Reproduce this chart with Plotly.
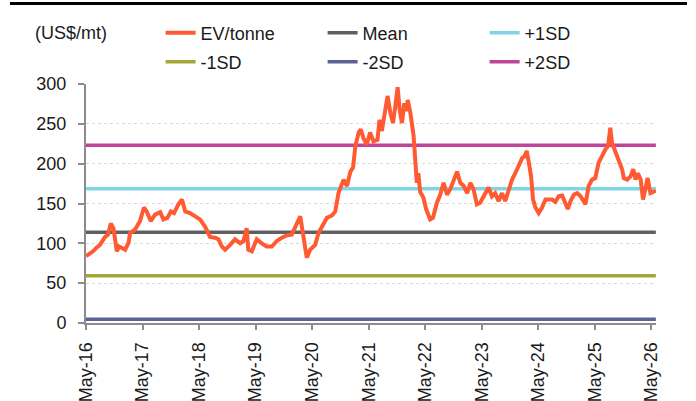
import plotly.graph_objects as go

# EV/tonne series (US$/mt)
dates = [
    "2016-05-01", "2016-05-20", "2016-06-15", "2016-07-11", "2016-07-30", "2016-09-01", "2016-09-21",
    "2016-10-08", "2016-10-25", "2016-11-05", "2016-11-16", "2016-12-01", "2016-12-18", "2017-01-09",
    "2017-01-31", "2017-02-10", "2017-03-13", "2017-04-15", "2017-05-10", "2017-05-28", "2017-06-23",
    "2017-07-21", "2017-08-23", "2017-09-13", "2017-10-09", "2017-10-31", "2017-11-21", "2017-12-19",
    "2018-01-11", "2018-02-01", "2018-03-04", "2018-04-05", "2018-05-07", "2018-06-09", "2018-07-11",
    "2018-08-13", "2018-09-04", "2018-09-26", "2018-10-17", "2018-11-18", "2018-12-20", "2019-01-22",
    "2019-02-12", "2019-03-05", "2019-03-15", "2019-04-07", "2019-05-09", "2019-06-10", "2019-07-12",
    "2019-08-14", "2019-09-16", "2019-10-18", "2019-11-19", "2019-12-21", "2020-01-19", "2020-02-14",
    "2020-03-02", "2020-03-16", "2020-03-27", "2020-04-18", "2020-05-20", "2020-06-11", "2020-07-03",
    "2020-08-04", "2020-09-06", "2020-09-27", "2020-10-18", "2020-11-20", "2020-12-12", "2021-01-03",
    "2021-01-20", "2021-02-04", "2021-02-25", "2021-03-11", "2021-03-28", "2021-04-19", "2021-05-10",
    "2021-06-01", "2021-06-27", "2021-07-10", "2021-07-25", "2021-08-16", "2021-08-31", "2021-09-18",
    "2021-10-05", "2021-10-20", "2021-11-04", "2021-11-17", "2021-12-02", "2021-12-17", "2021-12-30",
    "2022-01-08", "2022-01-25", "2022-02-15", "2022-02-27", "2022-03-08", "2022-03-18", "2022-03-29",
    "2022-04-20", "2022-05-07", "2022-06-02", "2022-06-20", "2022-07-16", "2022-08-06", "2022-08-28",
    "2022-09-19", "2022-10-10", "2022-11-01", "2022-11-23", "2022-12-14", "2023-01-05", "2023-01-27",
    "2023-02-17", "2023-03-09", "2023-03-31", "2023-04-21", "2023-05-24", "2023-06-14", "2023-07-06",
    "2023-07-27", "2023-08-18", "2023-09-09", "2023-09-30", "2023-10-21", "2023-11-13", "2023-12-04",
    "2023-12-26", "2024-01-17", "2024-02-01", "2024-02-16", "2024-03-01", "2024-03-15", "2024-03-28",
    "2024-04-12", "2024-05-03", "2024-05-25", "2024-06-16", "2024-07-07", "2024-07-29", "2024-08-19",
    "2024-09-10", "2024-10-02", "2024-10-23", "2024-11-07", "2024-11-25", "2024-12-16", "2025-01-07",
    "2025-01-29", "2025-03-01", "2025-03-22", "2025-04-13", "2025-05-04", "2025-05-25", "2025-06-16",
    "2025-07-08", "2025-07-25", "2025-08-09", "2025-08-20", "2025-09-11", "2025-10-02", "2025-10-24",
    "2025-11-04", "2025-11-26", "2025-12-17", "2026-01-04", "2026-01-19", "2026-02-03", "2026-02-21",
    "2026-03-08", "2026-03-23", "2026-04-07", "2026-04-25", "2026-05-16", "2026-05-30",
]
ev_tonne = [
    84, 86, 90, 95, 98, 108, 111,
    125, 119, 105, 90, 96, 94, 92,
    101, 113, 117, 128, 145, 140, 128,
    136, 139, 130, 132, 140, 138, 149,
    155, 140, 138, 134, 130, 121, 108,
    107, 105, 96, 92, 98, 105, 100,
    103, 119, 92, 90, 105, 100, 96,
    96, 103, 107, 110, 111, 124, 134,
    113, 92, 82, 92, 98, 113, 120,
    132, 135, 140, 163, 180, 172, 190,
    195, 222, 239, 243, 232, 224, 239,
    228, 230, 255, 241, 272, 285, 264,
    251, 272, 296, 268, 251, 276, 266,
    280, 264, 235, 197, 176, 188, 165,
    157, 143, 130, 132, 151, 161, 176,
    161, 168, 178, 190, 176, 172, 163,
    176, 168, 149, 151, 163, 170, 159,
    163, 153, 163, 153, 168, 180, 188,
    199, 207, 209, 216, 201, 184, 155,
    145, 138, 145, 155, 155, 155, 152,
    159, 160, 150, 143, 153, 161, 163,
    159, 149, 172, 180, 182, 201, 211,
    218, 222, 245, 226, 214, 203, 193,
    182, 180, 184, 193, 180, 188, 180,
    155, 168, 182, 163, 165, 166,
]

# Reference levels (US$/mt)
band_names = ["Mean", "+1SD", "-1SD", "-2SD", "+2SD"]
band_values = [113.8, 168.4, 59.2, 4.6, 223.0]
band_colors = ["#606060", "#80D4E8", "#A6A638", "#5A6396", "#C04498"]
band_legend_row = ["legend", "legend", "legend2", "legend2", "legend2"]

tick_dates = ["2016-05-01", "2017-05-01", "2018-05-01", "2019-05-01", "2020-05-01", "2021-05-01",
              "2022-05-01", "2023-05-01", "2024-05-01", "2025-05-01", "2026-05-01"]
tick_labels = ["May-16", "May-17", "May-18", "May-19", "May-20", "May-21",
               "May-22", "May-23", "May-24", "May-25", "May-26"]

FONT = "Liberation Sans, Arial, sans-serif"
FS = 18

fig = go.Figure()
for i in range(len(band_names)):
    fig.add_trace(go.Scatter(x=[dates[0], dates[-1]], y=[band_values[i]] * 2, mode="lines",
                             name=band_names[i], legendrank=i + 2, legend=band_legend_row[i],
                             line=dict(color=band_colors[i], width=3.5)))
fig.add_trace(go.Scatter(x=dates, y=ev_tonne, mode="lines", name="EV/tonne", legendrank=1,
                         legend="legend", line=dict(color="#FF5A32", width=4)))

legend_common = dict(orientation="h", x=0.1309, xanchor="left", yanchor="top",
                     entrywidth=117, entrywidthmode="pixels", traceorder="normal",
                     font=dict(family=FONT, size=FS, color="#1a1a1a"),
                     itemwidth=30, tracegroupgap=0, bgcolor="rgba(0,0,0,0)")

fig.update_layout(
    width=696, height=401,
    margin=dict(l=86, r=40, t=84, b=78, autoexpand=False),
    paper_bgcolor="white", plot_bgcolor="white",
    font=dict(family=FONT, size=FS, color="#1a1a1a"),
    showlegend=True,
    legend=dict(y=1.291, **legend_common),
    legend2=dict(y=1.1695, **legend_common),
    xaxis=dict(type="date", range=["2016-05-01", "2026-05-31"],
               tickmode="array", tickvals=tick_dates, ticktext=tick_labels,
               tickangle=-90, ticks="outside", ticklen=5, tickwidth=2, tickcolor="#8C8C8C",
               showline=True, linecolor="#8C8C8C", linewidth=2,
               showgrid=False, zeroline=False, ticklabelstandoff=5,
               tickfont=dict(family=FONT, size=FS, color="#1a1a1a")),
    yaxis=dict(range=[0, 300], dtick=50, tick0=0,
               ticks="outside", ticklen=6, tickwidth=2, tickcolor="#8C8C8C",
               showline=True, linecolor="#8C8C8C", linewidth=2,
               showgrid=True, gridcolor="#D9D9D9", griddash="dot", gridwidth=1,
               zeroline=False, ticklabelstandoff=8,
               tickfont=dict(family=FONT, size=FS, color="#1a1a1a")),
    annotations=[dict(text="(US$/mt)", xref="paper", yref="paper", x=-0.0935, y=1.213,
                      xanchor="left", yanchor="middle", showarrow=False,
                      font=dict(family=FONT, size=FS, color="#1a1a1a"))],
    shapes=[dict(type="rect", xref="paper", yref="paper", x0=-0.1333, x1=1.0544,
                 y0=1.3305, y1=1.343, fillcolor="black", line=dict(width=0), layer="above")],
)

fig.write_html("out.html", config={"displayModeBar": False},
               post_script="document.body.style.margin='0';document.body.style.overflow='hidden';")
